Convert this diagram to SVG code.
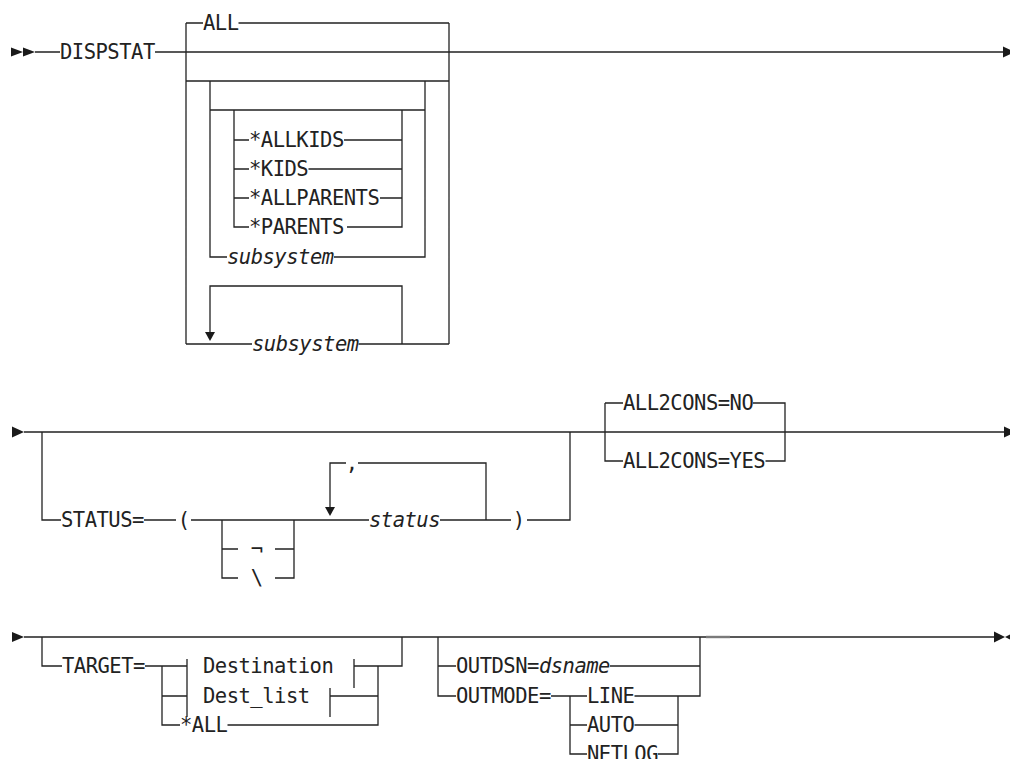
<svg xmlns="http://www.w3.org/2000/svg" width="1010" height="759" viewBox="0 0 1010 759">
<style>
.t{font-family:"DejaVu Sans Mono","Liberation Mono",monospace;font-size:20.5px;letter-spacing:-0.5px;fill:#222}
.i{font-style:italic}
.c{text-anchor:middle;letter-spacing:0}
.ln{fill:none;stroke:#222;stroke-width:1.3}
.ar{fill:#1a1a1a}
.gr{fill:none;stroke:#7a7a7a;stroke-width:2.4}
</style>
<rect width="1010" height="759" fill="#fff"/>
<g id="connectors">
<path class="ln" d="M35 52H60M155 52H1004M186 23V344M449 23V344M186 23H203M238.5 23H449M186 81H449M210 81V257H227M334 257H425V81M210 110H425M234 110V227H249M347 227H402V110M234 140H249M344 140H402M234 169H249M308.5 169H402M234 198H249M380 198H402M210 332V286H402V344M186 344H252M358.5 344H449"/>
<path class="ln" d="M24 432H1005M42 432V520H61M144 520H176M191 520H369M222 520V578H238M275 578H294V520M222 549H238M275 549H294M330 507V463H346M358 463H486V520M440 520H511M527 520H570V432M605 403V461H623M605 403H623M753 403H785V461H765.5"/>
<path class="ln" d="M24 637H994M42 637V666H62M145 666H187M162 666V725H180M162 696H187M187 659V717M354 659V688M330 688V717M354 666H402V637M378 666V725H227.5M330 696H378M438 637V696H456M438 666H456M610 666H700M700 637V696H634.5M551 696H587M570 696V754H587M570 725H587M634.5 725H678M658 754H678V696"/>
<path class="gr" d="M706 637H730"/>
<polygon class="ar" points="11,47.5 23,52 11,56.5"/>
<polygon class="ar" points="23,47.5 35,52 23,56.5"/>
<polygon class="ar" points="1003,46.5 1015,52 1003,57.5"/>
<polygon class="ar" points="205,332 215,332 210,341"/>
<polygon class="ar" points="12,426.5 24,432 12,437.5"/>
<polygon class="ar" points="1004,426.5 1016,432 1004,437.5"/>
<polygon class="ar" points="325,507 335,507 330,516"/>
<polygon class="ar" points="12,632 24,637 12,642"/>
<polygon class="ar" points="994,631.5 1005,637 994,642.5"/>
<polygon class="ar" points="1016,631.5 1005,637 1016,642.5"/>
</g>
<g id="n-dispstat"><text class="t" x="60" y="59">DISPSTAT</text></g>
<g id="n-all"><text class="t" x="203" y="30">ALL</text></g>
<g id="n-allkids"><text class="t" x="249" y="147">*ALLKIDS</text></g>
<g id="n-kids"><text class="t" x="249" y="176">*KIDS</text></g>
<g id="n-allparents"><text class="t" x="249" y="205">*ALLPARENTS</text></g>
<g id="n-parents"><text class="t" x="249" y="234">*PARENTS</text></g>
<g id="n-subsystem1"><text class="t i" x="227" y="264">subsystem</text></g>
<g id="n-subsystem2"><text class="t i" x="252" y="351">subsystem</text></g>
<g id="n-status-eq"><text class="t" x="61" y="527">STATUS=</text></g>
<g id="n-lparen"><text class="t c" x="184" y="527">(</text></g>
<g id="n-not"><text class="t c" x="257" y="556">¬</text></g>
<g id="n-bslash"><text class="t c" x="257" y="585">\</text></g>
<g id="n-comma"><text class="t c" x="352" y="470">,</text></g>
<g id="n-status"><text class="t i" x="369" y="527">status</text></g>
<g id="n-rparen"><text class="t c" x="519" y="527">)</text></g>
<g id="n-all2cons-no"><text class="t" x="623" y="410">ALL2CONS=NO</text></g>
<g id="n-all2cons-yes"><text class="t" x="623" y="468">ALL2CONS=YES</text></g>
<g id="n-target"><text class="t" x="62" y="673">TARGET=</text></g>
<g id="n-destination"><text class="t" x="203" y="673">Destination</text></g>
<g id="n-dest-list"><text class="t" x="203" y="703">Dest_list</text></g>
<g id="n-star-all"><text class="t" x="180" y="732">*ALL</text></g>
<g id="n-outdsn"><text class="t" x="456" y="673">OUTDSN=<tspan class="i">dsname</tspan></text></g>
<g id="n-outmode"><text class="t" x="456" y="703">OUTMODE=</text></g>
<g id="n-line"><text class="t" x="587" y="703">LINE</text></g>
<g id="n-auto"><text class="t" x="587" y="732">AUTO</text></g>
<g id="n-netlog"><text class="t" x="587" y="761">NETLOG</text></g>
</svg>
